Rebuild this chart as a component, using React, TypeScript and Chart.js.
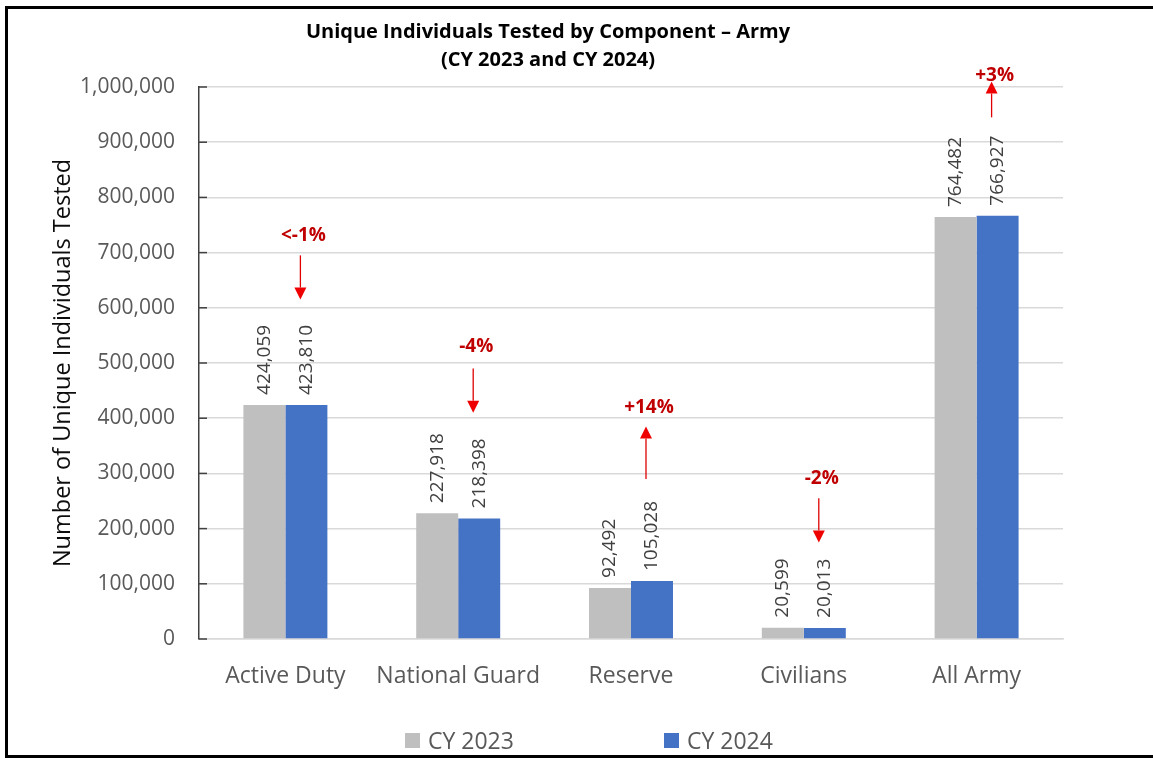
import React, { useEffect, useRef } from "react";
import { Chart, registerables } from "chart.js";

Chart.register(...registerables);

const categories = ["Active Duty", "National Guard", "Reserve", "Civilians", "All Army"];
const cy2023 = [424059, 227918, 92492, 20599, 764482];
const cy2024 = [423810, 218398, 105028, 20013, 766927];
const changeLabels = ["<-1%", "-4%", "+14%", "-2%", "+3%"];
const changeLabelAt = [730000, 530000, 420000, 290000, 1020000];
const arrowFrom = [695000, 490000, 290000, 255000, 945000];
const arrowTo = [615000, 410000, 385000, 175000, 1010000];
const seriesNames = ["CY 2023", "CY 2024"];
const seriesColors = ["#bfbfbf", "#4472c4"];

const FONT = "'Open Sans', 'Noto Sans', sans-serif";

const annotationPlugin = {
  id: "annotations",
  afterDatasetsDraw(chart: any) {
    const ctx = chart.ctx;
    const y = chart.scales.y;
    const area = chart.chartArea;
    ctx.save();
    // inside tick marks on the value axis
    ctx.strokeStyle = "#404040";
    ctx.lineWidth = 1.5;
    y.ticks.forEach((t: any) => {
      const py = y.getPixelForValue(t.value);
      ctx.beginPath();
      ctx.moveTo(area.left, py);
      ctx.lineTo(area.left + 8, py);
      ctx.stroke();
    });
    // rotated value labels
    chart.data.datasets.forEach((ds: any, di: number) => {
      const meta = chart.getDatasetMeta(di);
      meta.data.forEach((bar: any, i: number) => {
        ctx.save();
        ctx.translate(bar.x, bar.y - 10);
        ctx.rotate(-Math.PI / 2);
        ctx.font = `19px ${FONT}`;
        ctx.fillStyle = "#404040";
        ctx.textAlign = "left";
        ctx.textBaseline = "middle";
        ctx.fillText(Number(ds.data[i]).toLocaleString("en-US"), 0, 0);
        ctx.restore();
      });
    });
    // change arrows
    const blue = chart.getDatasetMeta(1);
    categories.forEach((_, i) => {
      const bx = blue.data[i].x;
      const ax = bx - 6;
      const y0 = y.getPixelForValue(arrowFrom[i]);
      const y1 = y.getPixelForValue(arrowTo[i]);
      const dir = Math.sign(y1 - y0);
      const headLen = 12;
      const headHalf = 6;
      ctx.strokeStyle = "#e00000";
      ctx.lineWidth = 1.3;
      ctx.beginPath();
      ctx.moveTo(ax, y0);
      ctx.lineTo(ax, y1 - dir * headLen);
      ctx.stroke();
      ctx.fillStyle = "#ee0000";
      ctx.beginPath();
      ctx.moveTo(ax, y1);
      ctx.lineTo(ax - headHalf, y1 - dir * headLen);
      ctx.lineTo(ax + headHalf, y1 - dir * headLen);
      ctx.closePath();
      ctx.fill();
      ctx.font = `bold 19px ${FONT}`;
      ctx.fillStyle = "#c00000";
      ctx.textAlign = "center";
      ctx.textBaseline = "middle";
      ctx.fillText(changeLabels[i], bx - 3, y.getPixelForValue(changeLabelAt[i]));
    });
    ctx.restore();
  },
};

export default function App() {
  const canvasRef = useRef<HTMLCanvasElement | null>(null);

  useEffect(() => {
    if (!canvasRef.current) return;
    const chart = new Chart(canvasRef.current, {
      type: "bar",
      data: {
        labels: categories,
        datasets: [
          { label: seriesNames[0], data: cy2023, backgroundColor: seriesColors[0], barPercentage: 1, categoryPercentage: 0.486 },
          { label: seriesNames[1], data: cy2024, backgroundColor: seriesColors[1], barPercentage: 1, categoryPercentage: 0.486 },
        ],
      },
      options: {
        responsive: false,
        animation: false,
        layout: { padding: { left: 0, right: 90, top: 87, bottom: 59 } },
        plugins: {
          legend: { display: false },
          title: { display: false },
          tooltip: { enabled: false },
        },
        scales: {
          x: {
            grid: { display: false, drawTicks: false },
            border: { color: "#d9d9d9", width: 1.5 },
            ticks: { font: { family: FONT, size: 23 }, color: "#595959", padding: 24 },
            afterFit(s: any) {
              s.height = 60;
            },
          },
          y: {
            min: 0,
            max: 1000000,
            ticks: {
              stepSize: 100000,
              font: { family: FONT, size: 21 },
              color: "#595959",
              padding: 24,
              callback: (v: any) => Number(v).toLocaleString("en-US"),
            },
            grid: { color: "#d9d9d9", lineWidth: 1.5, drawTicks: false },
            border: { color: "#404040", width: 1.5 },
            title: {
              display: true,
              text: "Number of Unique Individuals Tested",
              font: { family: FONT, size: 23.5 },
              color: "#0d0d0d",
              padding: { top: 49, bottom: 0 },
            },
            afterFit(s: any) {
              s.width = 199;
            },
          },
        },
      },
      plugins: [annotationPlugin],
    } as any);
    return () => chart.destroy();
  }, []);

  return (
    <div style={{ position: "fixed", left: 0, top: 0, width: 1153, height: 758, background: "#fff", overflow: "hidden", fontFamily: FONT }}>
      <div style={{ position: "absolute", left: 5, top: 6, width: 1200, height: 752, border: "3px solid #000", boxSizing: "border-box" }} />
      <canvas ref={canvasRef} width={1153} height={758} style={{ position: "absolute", left: 0, top: 0, width: 1153, height: 758 }} />
      <div style={{ position: "absolute", left: 248, top: 17, width: 600, textAlign: "center", fontWeight: 700, fontSize: 20, lineHeight: "28px", color: "#000" }}>
        <div>Unique Individuals Tested by Component – Army</div>
        <div>(CY 2023 and CY 2024)</div>
      </div>
      <div style={{ position: "absolute", left: 405, top: 724, display: "flex", alignItems: "center", gap: 150, height: 32 }}>
        {seriesNames.map((n, i) => (
          <div key={n} style={{ display: "flex", alignItems: "center" }}>
            <span style={{ display: "inline-block", width: 15, height: 15, background: seriesColors[i], marginRight: 8 }} />
            <span style={{ fontSize: 23, color: "#595959" }}>{n}</span>
          </div>
        ))}
      </div>
    </div>
  );
}
